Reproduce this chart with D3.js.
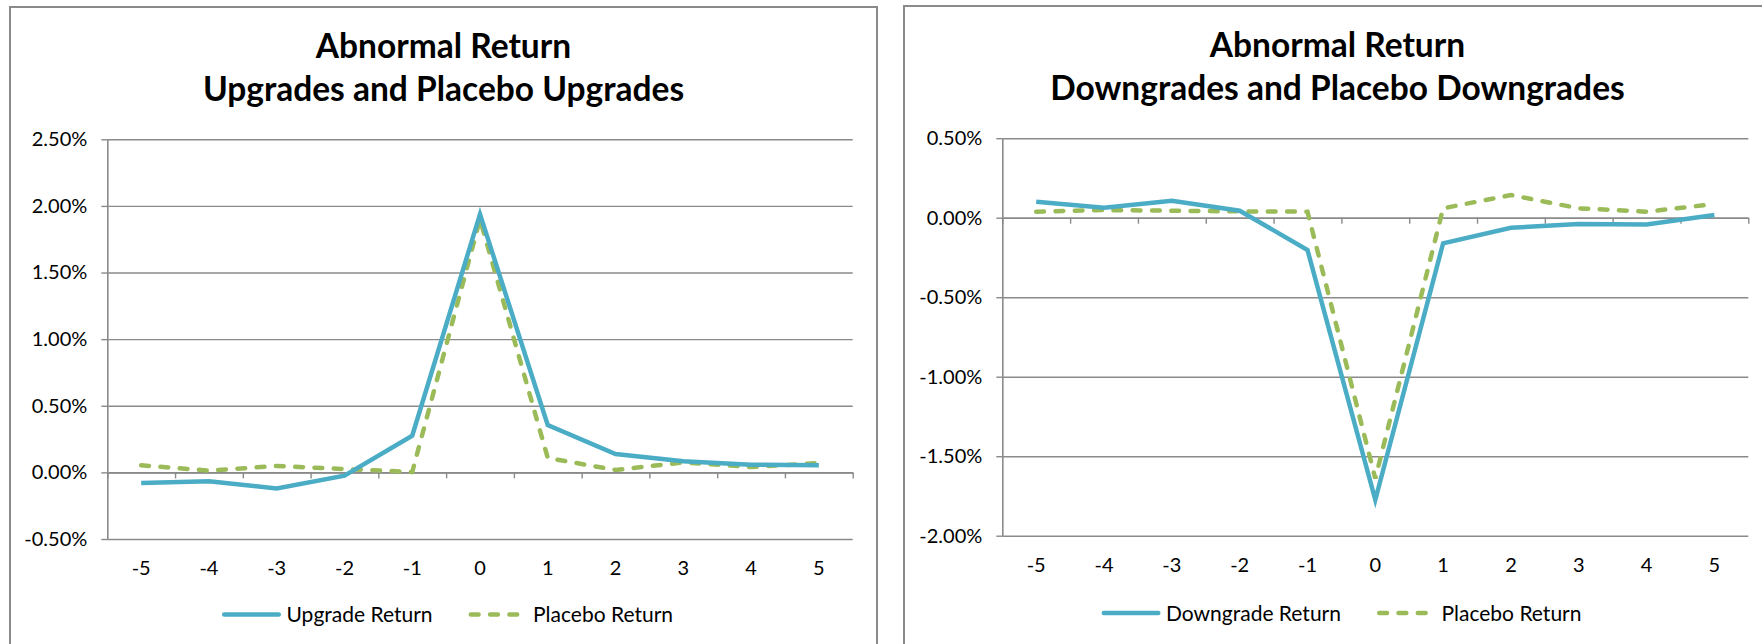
<!DOCTYPE html>
<html>
<head>
<meta charset="utf-8">
<script src="https://cdn.jsdelivr.net/npm/d3@7"></script>
<style>
  body { margin: 0; background: #fff; }
  svg { display: block; }
  text { font-family: Lato, "Open Sans", sans-serif; fill: #000; }
</style>
</head>
<body>
<svg id="chart" width="1762" height="644"></svg>
<script>
// Event days around the rating change
const days = [-5, -4, -3, -2, -1, 0, 1, 2, 3, 4, 5];

// Abnormal returns, in percent
const upgradeReturn   = [-0.080, -0.067, -0.120, -0.025, 0.275, 1.938, 0.355, 0.138, 0.083, 0.058, 0.053];
const upgradePlacebo  = [0.053, 0.013, 0.048, 0.025, 0.003, 1.900, 0.108, 0.018, 0.075, 0.040, 0.070];
const downgradeReturn = [0.100, 0.063, 0.107, 0.044, -0.203, -1.775, -0.161, -0.063, -0.040, -0.042, 0.017];
const downgradePlacebo = [0.038, 0.048, 0.044, 0.040, 0.038, -1.640, 0.059, 0.143, 0.059, 0.038, 0.086];

// Value-axis tick labels, in percent
const upgradeTicks = [-0.5, 0, 0.5, 1.0, 1.5, 2.0, 2.5];
const downgradeTicks = [-2.0, -1.5, -1.0, -0.5, 0, 0.5];

const upgradeTitle = ["Abnormal Return", "Upgrades and Placebo Upgrades"];
const downgradeTitle = ["Abnormal Return", "Downgrades and Placebo Downgrades"];
const upgradeLegend = ["Upgrade Return", "Placebo Return"];
const downgradeLegend = ["Downgrade Return", "Placebo Return"];

const BLUE = "#4BACC6";
const GREEN = "#9BBB59";
const GRID = "#8a8a8a";
const LINE_W = 4.5;
const DASH = "7.8,11.5";

const svg = d3.select("#chart");
const fmt = d => d.toFixed(2) + "%";

function drawPanel(cfg) {
  const g = svg.append("g").attr("transform", `translate(${cfg.left},${cfg.top})`);
  const W = 867;

  // chart frame
  g.append("rect")
    .attr("x", 0).attr("y", 0)
    .attr("width", W).attr("height", 720)
    .attr("fill", "#fff")
    .attr("stroke", GRID)
    .attr("stroke-width", 2);

  // title
  g.append("text")
    .attr("x", W / 2).attr("y", 51.3)
    .attr("text-anchor", "middle")
    .style("font-size", "33.5px").style("font-weight", 700)
    .text(cfg.title[0]);
  g.append("text")
    .attr("x", W / 2).attr("y", 94)
    .attr("text-anchor", "middle")
    .style("font-size", "33.5px").style("font-weight", 700)
    .text(cfg.title[1]);

  const { x0, x1, y0, y1 } = cfg.plot;
  const x = d3.scaleBand().domain(days).range([x0, x1]).padding(0);
  const xEdge = d3.scaleLinear().domain([0, days.length]).range([x0, x1]);
  const y = d3.scaleLinear().domain(d3.extent(cfg.ticks)).range([y1, y0]);

  // horizontal gridlines
  const grid = g.append("g")
    .attr("transform", `translate(${x0},0)`)
    .call(d3.axisLeft(y).tickValues(cfg.ticks).tickSize(-(x1 - x0)).tickFormat(""));
  grid.select(".domain").remove();
  grid.selectAll("line").attr("stroke", GRID).attr("stroke-width", 1.4);

  // value axis with outside tick marks and labels
  const ya = g.append("g")
    .attr("transform", `translate(${x0},0)`)
    .call(d3.axisLeft(y).tickValues(cfg.ticks).tickSize(6).tickSizeOuter(0).tickPadding(14).tickFormat(fmt));
  ya.select(".domain").attr("stroke", GRID).attr("stroke-width", 1.6);
  ya.selectAll("line").attr("stroke", GRID).attr("stroke-width", 1.4);
  ya.selectAll("text")
    .style("font-family", "Lato, 'Open Sans', sans-serif")
    .style("font-size", "20px").attr("fill", "#000");

  // category axis along zero with tick marks between categories
  const xa = g.append("g")
    .attr("transform", `translate(0,${y(0)})`)
    .call(d3.axisBottom(xEdge).tickValues(d3.range(days.length + 1)).tickSize(6).tickSizeOuter(0).tickFormat(""));
  xa.select(".domain").attr("stroke", GRID).attr("stroke-width", 1.6);
  xa.selectAll("line").attr("stroke", GRID).attr("stroke-width", 1.4);

  // category labels below the plot area
  const xl = g.append("g")
    .attr("transform", `translate(0,${y1})`)
    .call(d3.axisBottom(x).tickSize(0).tickPadding(22).tickFormat(d => String(d)));
  xl.select(".domain").remove();
  xl.selectAll("text")
    .style("font-family", "Lato, 'Open Sans', sans-serif")
    .style("font-size", "20px").attr("fill", "#000");

  const line = d3.line()
    .x((d, i) => x(days[i]) + x.bandwidth() / 2)
    .y(d => y(d));

  g.append("path")
    .datum(cfg.placebo)
    .attr("fill", "none")
    .attr("stroke", GREEN)
    .attr("stroke-width", LINE_W)
    .attr("stroke-dasharray", DASH)
    .attr("stroke-linecap", "round")
    .attr("d", line);

  g.append("path")
    .datum(cfg.actual)
    .attr("fill", "none")
    .attr("stroke", BLUE)
    .attr("stroke-width", LINE_W)
    .attr("stroke-linejoin", "miter")
    .attr("d", line);

  // legend
  const lg = g.append("g");
  const symW = 59, symGap = 5.5, itemGap = 36;
  const items = [
    { label: cfg.legend[0], color: BLUE, dash: null },
    { label: cfg.legend[1], color: GREEN, dash: DASH }
  ];
  let cx = 0;
  items.forEach((it) => {
    const ig = lg.append("g").attr("transform", `translate(${cx},0)`);
    const sym = ig.append("line")
      .attr("x1", LINE_W / 2).attr("x2", it.dash ? 51 - LINE_W / 2 : symW - LINE_W / 2)
      .attr("y1", 0).attr("y2", 0)
      .attr("stroke", it.color)
      .attr("stroke-width", LINE_W)
      .attr("stroke-linecap", "round");
    if (it.dash) sym.attr("stroke-dasharray", DASH);
    const t = ig.append("text")
      .attr("x", symW + symGap).attr("y", 7.5)
      .style("font-size", "21px")
      .text(it.label);
    cx += symW + symGap + t.node().getComputedTextLength() + itemGap;
  });
  const total = cx - itemGap;
  lg.attr("transform", `translate(${W / 2 + 4 - total / 2},${cfg.legendY})`);
}

drawPanel({
  left: 10, top: 7,
  title: upgradeTitle,
  ticks: upgradeTicks,
  actual: upgradeReturn,
  placebo: upgradePlacebo,
  legend: upgradeLegend,
  plot: { x0: 97.3, x1: 842.7, y0: 132.3, y1: 532 },
  legendY: 607.5
});

drawPanel({
  left: 904, top: 6,
  title: downgradeTitle,
  ticks: downgradeTicks,
  actual: downgradeReturn,
  placebo: downgradePlacebo,
  legend: downgradeLegend,
  plot: { x0: 98.3, x1: 844.3, y0: 132.2, y1: 529.7 },
  legendY: 607
});
</script>
</body>
</html>
